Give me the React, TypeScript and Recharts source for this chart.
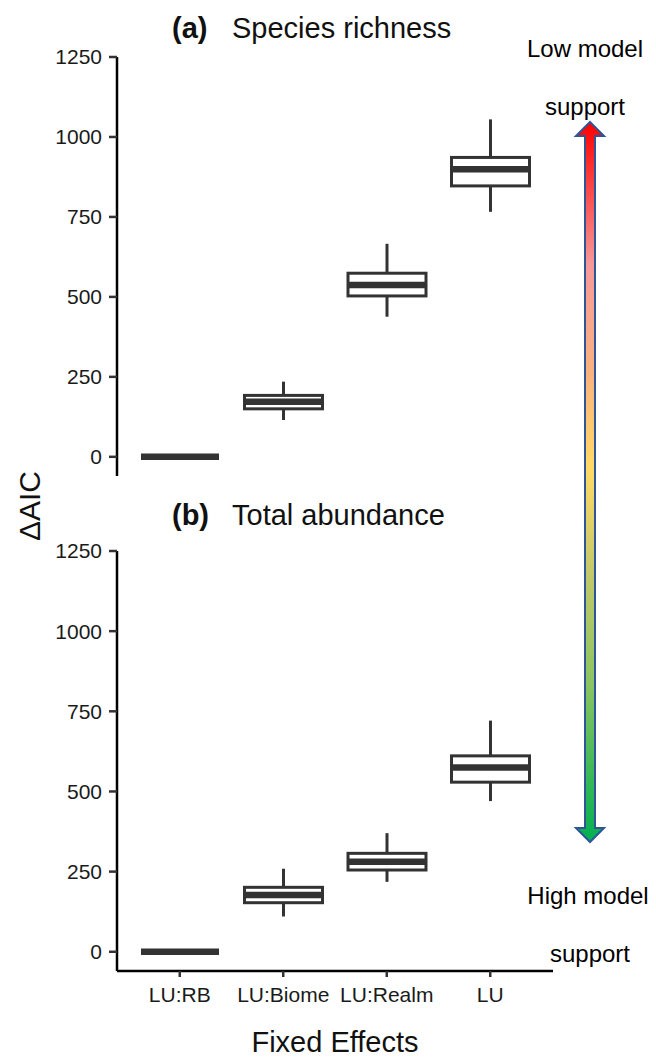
import React from "react"
import { ComposedChart, Bar, XAxis, YAxis } from "recharts"

// fixed effect structures, left to right
const categories = ["LU:RB", "LU:Biome", "LU:Realm", "LU"]
const yTicks = [0, 250, 500, 750, 1000, 1250]

// (a) species richness, ΔAIC
const richnessMin = [0, 115, 438, 766]
const richnessQ1 = [0, 150, 503, 847]
const richnessMedian = [0, 172, 537, 899]
const richnessQ3 = [0, 192, 574, 936]
const richnessMax = [0, 235, 666, 1055]

// (b) total abundance, ΔAIC
const abundanceMin = [0, 110, 218, 470]
const abundanceQ1 = [0, 153, 255, 529]
const abundanceMedian = [0, 177, 281, 575]
const abundanceQ3 = [0, 201, 307, 611]
const abundanceMax = [0, 259, 370, 721]

const INK = "#333333"
const FONT = '"Liberation Sans", Arial, Helvetica, sans-serif'

const buildRows = (mins: number[], q1s: number[], meds: number[], q3s: number[], maxs: number[]) =>
  categories.map((name, i) => ({
    name,
    min: mins[i],
    q1: q1s[i],
    median: meds[i],
    q3: q3s[i],
    max: maxs[i],
    range: [mins[i], maxs[i]],
  }))

const richnessRows = buildRows(richnessMin, richnessQ1, richnessMedian, richnessQ3, richnessMax)
const abundanceRows = buildRows(abundanceMin, abundanceQ1, abundanceMedian, abundanceQ3, abundanceMax)

// draws a ggplot-like boxplot inside the [min, max] range bar
const BoxShape = (props: any) => {
  const { x, y, width, height, payload } = props
  if (!payload) return null
  const top = Math.min(y, y + height)
  const h = Math.abs(height)
  const span = payload.max - payload.min
  const toPx = (v: number) => (span === 0 ? top : top + ((payload.max - v) / span) * h)
  const cx = x + width / 2
  const yQ3 = toPx(payload.q3)
  const yQ1 = toPx(payload.q1)
  const yMed = toPx(payload.median)
  return (
    <g>
      <line x1={cx} x2={cx} y1={toPx(payload.max)} y2={yQ3} stroke={INK} strokeWidth={3} />
      <line x1={cx} x2={cx} y1={yQ1} y2={toPx(payload.min)} stroke={INK} strokeWidth={3} />
      {yQ1 - yQ3 > 0 && (
        <rect x={x} y={yQ3} width={width} height={yQ1 - yQ3} fill="#ffffff" stroke={INK} strokeWidth={3} />
      )}
      <line x1={x} x2={x + width} y1={yMed} y2={yMed} stroke={INK} strokeWidth={6.5} />
    </g>
  )
}

interface PanelProps {
  rows: ReturnType<typeof buildRows>
  height: number
  top: number
  showX: boolean
}

const Panel = ({ rows, height, top, showX }: PanelProps) => (
  <ComposedChart
    width={656}
    height={height}
    data={rows}
    margin={{ top, right: 103, bottom: showX ? 50 : 4, left: 0 }}
  >
    <XAxis
      dataKey="name"
      hide={!showX}
      height={40}
      interval={0}
      padding={{ left: 11, right: 11 }}
      tickSize={6}
      tickMargin={10}
      axisLine={{ stroke: "#000000", strokeWidth: 2.5 }}
      tickLine={{ stroke: INK, strokeWidth: 2.5 }}
      tick={{ fill: "#1a1a1a", fontSize: 21, fontFamily: FONT }}
    />
    <YAxis
      type="number"
      domain={[-60, 1250]}
      ticks={yTicks}
      allowDataOverflow
      width={117}
      tickSize={8}
      tickMargin={7}
      axisLine={{ stroke: "#000000", strokeWidth: 2.5 }}
      tickLine={{ stroke: INK, strokeWidth: 2.5 }}
      tick={{ fill: "#1a1a1a", fontSize: 21, fontFamily: FONT }}
    />
    <Bar dataKey="range" barSize={78} shape={BoxShape} isAnimationActive={false} />
  </ComposedChart>
)

const Overlay = () => (
  <svg width={656} height={1061} style={{ position: "absolute", left: 0, top: 0, pointerEvents: "none" }}>
    <defs>
      <linearGradient id="supportGrad" x1="0" y1="0" x2="0" y2="1">
        <stop offset="0" stopColor="#ff0000" />
        <stop offset="0.2" stopColor="#f59a9a" />
        <stop offset="0.35" stopColor="#f9b27e" />
        <stop offset="0.48" stopColor="#ffd966" />
        <stop offset="0.62" stopColor="#c5c96a" />
        <stop offset="0.78" stopColor="#8bc462" />
        <stop offset="1" stopColor="#00b050" />
      </linearGradient>
    </defs>
    <g fontFamily={FONT} fill="#111111">
      <text x={172} y={38} fontSize={29} fontWeight="bold">(a)</text>
      <text x={232} y={38} fontSize={29}>Species richness</text>
      <text x={172} y={525} fontSize={29} fontWeight="bold">(b)</text>
      <text x={232} y={525} fontSize={29}>Total abundance</text>
      <text x={40} y={506} fontSize={30} textAnchor="middle" transform="rotate(-90 40 506)">ΔAIC</text>
      <text x={335} y={1052} fontSize={29} textAnchor="middle">Fixed Effects</text>
      <text x={585} y={57} fontSize={24} textAnchor="middle" fill="#000">Low model</text>
      <text x={585} y={115} fontSize={24} textAnchor="middle" fill="#000">support</text>
      <text x={588} y={904} fontSize={24} textAnchor="middle" fill="#000">High model</text>
      <text x={590} y={962} fontSize={24} textAnchor="middle" fill="#000">support</text>
    </g>
    <polygon
      points="590,122 604,136 595,136 595,828 604,828 590,842 576,828 585,828 585,136 576,136"
      fill="url(#supportGrad)"
      stroke="#2f5597"
      strokeWidth={2}
      strokeLinejoin="miter"
    />
  </svg>
)

export default function App() {
  return (
    <div style={{ position: "absolute", left: 0, top: 0, width: 656, height: 1061, background: "#fff" }}>
      <div style={{ position: "absolute", left: 0, top: 0 }}>
        <Panel rows={richnessRows} height={480} top={57} showX={false} />
      </div>
      <div style={{ position: "absolute", left: 0, top: 480 }}>
        <Panel rows={abundanceRows} height={581} top={71} showX={true} />
      </div>
      <Overlay />
    </div>
  )
}
